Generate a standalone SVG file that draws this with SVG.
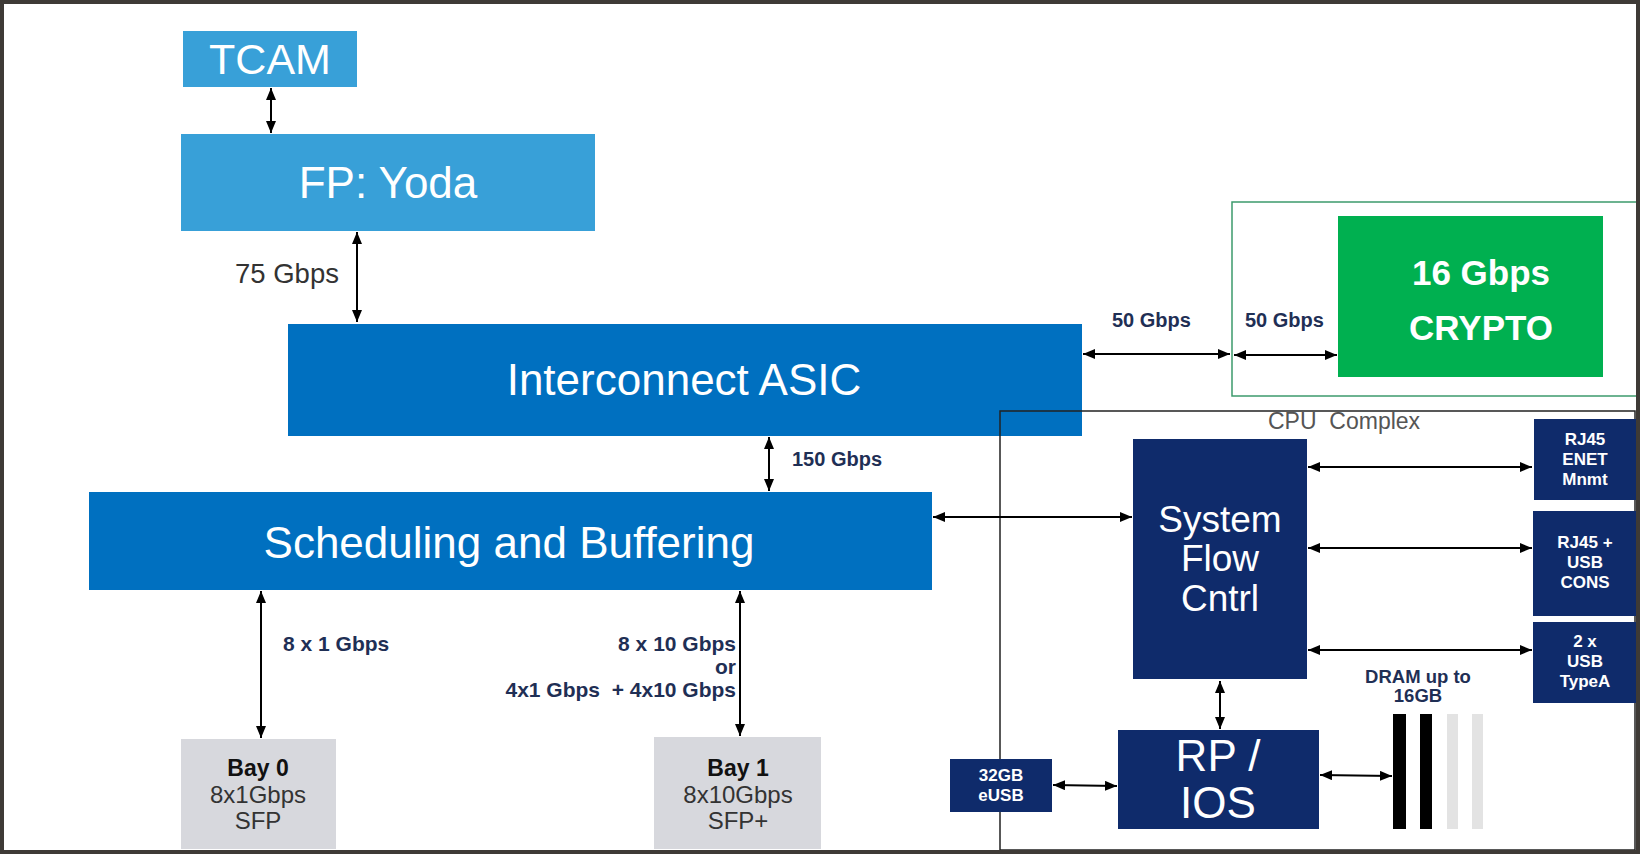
<svg xmlns="http://www.w3.org/2000/svg" width="1640" height="854" viewBox="0 0 1640 854">
<style>
.lb{fill:#38a0d8}
.db{fill:#0070c0}
.nv{fill:#0f2b6b}
.gr{fill:#d7d8dd}
.t{font-family:"Liberation Sans",Arial,sans-serif;text-anchor:middle}
.w{fill:#ffffff}
.lab{font-family:"Liberation Sans",Arial,sans-serif;font-weight:bold;font-size:21px;fill:#1f2f55}
.sm{font-family:"Liberation Sans",Arial,sans-serif;font-weight:bold;font-size:17px;fill:#ffffff;text-anchor:middle}
.c line{stroke:#000;stroke-width:2;marker-start:url(#ah);marker-end:url(#ah)}
</style>
<defs>
<marker id="ah" viewBox="0 0 12 10" refX="12" refY="5" markerWidth="12" markerHeight="10" markerUnits="userSpaceOnUse" orient="auto-start-reverse">
<path d="M0,0 L12,5 L0,10 z" fill="#000"/>
</marker>
</defs>
<rect x="0" y="0" width="1640" height="854" fill="#ffffff"/>

<g id="tcam"><rect class="lb" x="183" y="31" width="174" height="56"/><text class="t w" x="270" y="74" font-size="43">TCAM</text></g>
<g id="fp"><rect class="lb" x="181" y="134" width="414" height="97"/><text class="t w" x="388" y="198" font-size="44">FP: Yoda</text></g>
<g id="interconnect"><rect class="db" x="288" y="324" width="794" height="112"/><text class="t w" x="684" y="395" font-size="44">Interconnect ASIC</text></g>
<g id="sched"><rect class="db" x="89" y="492" width="843" height="98"/><text class="t w" x="509" y="558" font-size="44">Scheduling and Buffering</text></g>

<g id="crypto-group"><rect x="1232" y="202" width="405" height="194" fill="none" stroke="#3c9a6c" stroke-width="1.5"/></g>
<g id="crypto"><rect x="1338" y="216" width="265" height="161" fill="#00b050"/><text class="t w" x="1481" y="285" font-size="35" font-weight="bold">16 Gbps</text><text class="t w" x="1481" y="340" font-size="35" font-weight="bold">CRYPTO</text></g>

<g id="cpu-complex"><rect x="1000" y="411" width="635" height="439" fill="none" stroke="#222" stroke-width="1.5"/><text x="1268" y="429" font-family="Liberation Sans,Arial,sans-serif" font-size="23" fill="#555" xml:space="preserve">CPU  Complex</text></g>

<g id="sysflow"><rect class="nv" x="1133" y="439" width="174" height="240"/><text class="t w" x="1220" y="532" font-size="37">System</text><text class="t w" x="1220" y="571" font-size="37">Flow</text><text class="t w" x="1220" y="611" font-size="37">Cntrl</text></g>
<g id="rp"><rect class="nv" x="1118" y="730" width="201" height="99"/><text class="t w" x="1218" y="771" font-size="44">RP /</text><text class="t w" x="1218" y="818" font-size="44">IOS</text></g>
<g id="eusb"><rect class="nv" x="950" y="759" width="102" height="53"/><text class="sm" x="1001" y="781">32GB</text><text class="sm" x="1001" y="801">eUSB</text></g>
<g id="enet"><rect class="nv" x="1534" y="419" width="102" height="81"/><text class="sm" x="1585" y="445">RJ45</text><text class="sm" x="1585" y="465">ENET</text><text class="sm" x="1585" y="485">Mnmt</text></g>
<g id="cons"><rect class="nv" x="1533" y="511" width="103" height="105"/><text class="sm" x="1585" y="548">RJ45 +</text><text class="sm" x="1585" y="568">USB</text><text class="sm" x="1585" y="588">CONS</text></g>
<g id="usb"><rect class="nv" x="1533" y="622" width="103" height="81"/><text class="sm" x="1585" y="647">2 x</text><text class="sm" x="1585" y="667">USB</text><text class="sm" x="1585" y="687">TypeA</text></g>
<g id="dram"><rect x="1393" y="714" width="13" height="115" fill="#000"/><rect x="1420" y="714" width="12" height="115" fill="#000"/><rect x="1447" y="714" width="11" height="115" fill="#e3e3e3"/><rect x="1472" y="714" width="11" height="115" fill="#e3e3e3"/><text class="t" x="1418" y="683" font-size="18.5" font-weight="bold" fill="#1f2f55">DRAM up to</text><text class="t" x="1418" y="702" font-size="18.5" font-weight="bold" fill="#1f2f55">16GB</text></g>

<g id="bay0"><rect class="gr" x="181" y="739" width="155" height="110"/><text class="t" x="258" y="776" font-size="23" font-weight="bold" fill="#111">Bay 0</text><text class="t" x="258" y="803" font-size="24" fill="#333">8x1Gbps</text><text class="t" x="258" y="829" font-size="24" fill="#333">SFP</text></g>
<g id="bay1"><rect class="gr" x="654" y="737" width="167" height="112"/><text class="t" x="738" y="776" font-size="23" font-weight="bold" fill="#111">Bay 1</text><text class="t" x="738" y="803" font-size="24" fill="#333">8x10Gbps</text><text class="t" x="738" y="829" font-size="24" fill="#333">SFP+</text></g>

<g id="connectors" class="c">
<line x1="271" y1="88" x2="271" y2="133"/>
<line x1="357" y1="232" x2="357" y2="322"/>
<line x1="769" y1="437" x2="769" y2="491"/>
<line x1="1083" y1="354" x2="1230" y2="354"/>
<line x1="1234" y1="355" x2="1337" y2="355"/>
<line x1="933" y1="517" x2="1132" y2="517"/>
<line x1="1308" y1="467" x2="1532" y2="467"/>
<line x1="1308" y1="548" x2="1532" y2="548"/>
<line x1="1308" y1="650" x2="1532" y2="650"/>
<line x1="1220" y1="681" x2="1220" y2="729"/>
<line x1="1053" y1="785" x2="1117" y2="786"/>
<line x1="1320" y1="775" x2="1392" y2="776"/>
<line x1="261" y1="591" x2="261" y2="738"/>
<line x1="740" y1="591" x2="740" y2="736"/>
</g>

<g id="labels">
<text x="235" y="283" font-family="Liberation Sans,Arial,sans-serif" font-size="27.5" fill="#333">75 Gbps</text>
<text class="lab" x="792" y="466" style="font-size:20px">150 Gbps</text>
<text class="lab" x="1112" y="327" style="font-size:20px">50 Gbps</text>
<text class="lab" x="1245" y="327" style="font-size:20px">50 Gbps</text>
<text class="lab" x="283" y="651">8 x 1 Gbps</text>
<text class="lab" x="736" y="651" text-anchor="end">8 x 10 Gbps</text>
<text class="lab" x="736" y="674" text-anchor="end">or</text>
<text class="lab" x="736" y="697" text-anchor="end" xml:space="preserve">4x1 Gbps  + 4x10 Gbps</text>
</g>

<rect x="2" y="2" width="1636" height="850" fill="none" stroke="#3e3a36" stroke-width="4"/>
</svg>
